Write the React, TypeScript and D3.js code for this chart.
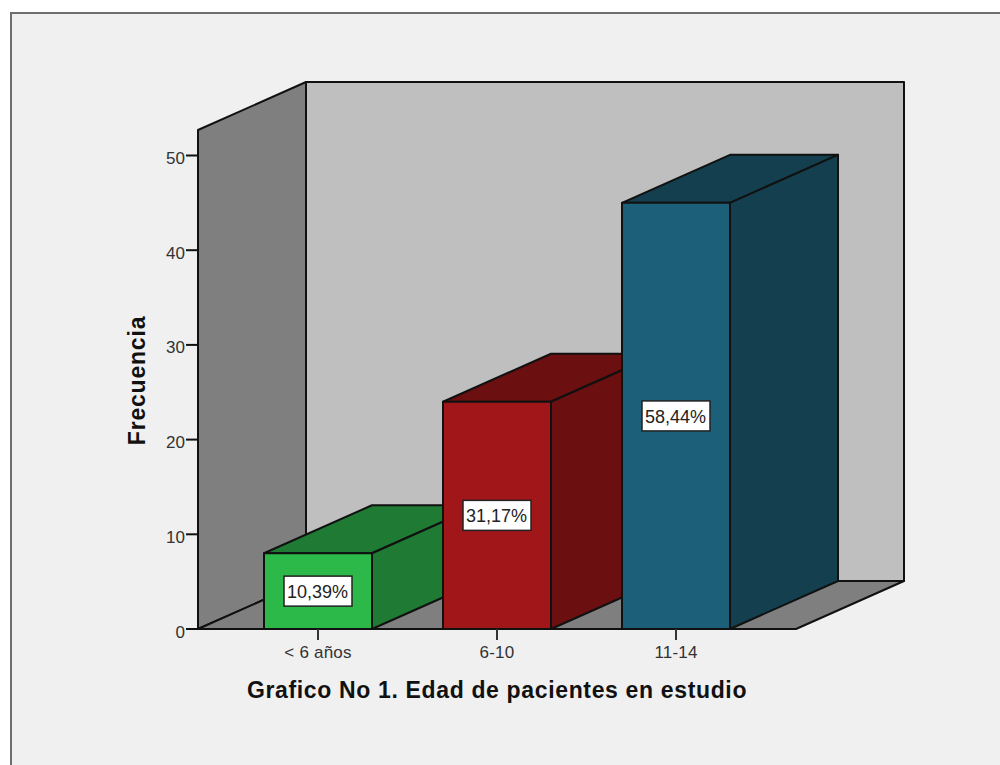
import React from "react";
import * as d3 from "d3";

const categories = ["< 6 años", "6-10", "11-14"];
const frequencies = [8, 24, 45];
const percentLabels = ["10,39%", "31,17%", "58,44%"];
const frontColors = ["#2db84a", "#a11618", "#1c5f78"];
const sideColors = ["#1f7a33", "#6b0f10", "#133f4f"];
const yTicks = [0, 10, 20, 30, 40, 50];
const yAxisTitle = "Frecuencia";
const chartTitle = "Grafico No 1. Edad de pacientes en estudio";

const FONT = "'Liberation Sans', Arial, sans-serif";
const y = d3.scaleLinear().domain([0, 50]).range([629, 155.5]);
const x = d3.scalePoint<string>().domain(categories).range([318, 676]);
const barW = 108;
const dx = 108;
const dy = -48;
const left = 198;
const right = 796;
const top = 130;
const base = 629;
const line = d3.line();
const poly = (pts: [number, number][]) => line(pts) + "Z";
const stroke = { stroke: "#111", strokeWidth: 2, strokeLinejoin: "round" as const };

export default function App() {
  return (
    <svg width={1000} height={765} style={{ position: "absolute", left: 0, top: 0, background: "#fff" }}>
      <rect x={11} y={13} width={1000} height={770} fill="#f0f0f0" stroke="#6e6e6e" strokeWidth={2} />
      <path d={poly([[left + dx, top + dy], [right + dx, top + dy], [right + dx, base + dy], [left + dx, base + dy]])} fill="#bfbfbf" {...stroke} />
      <path d={poly([[left, top], [left + dx, top + dy], [left + dx, base + dy], [left, base]])} fill="#7f7f7f" {...stroke} />
      <path d={poly([[left, base], [left + dx, base + dy], [right + dx, base + dy], [right, base]])} fill="#7f7f7f" {...stroke} />
      {yTicks.map((t) => (
        <g key={t}>
          <line x1={left - 12} x2={left} y1={y(t)} y2={y(t)} {...stroke} />
          <text x={left - 13} y={y(t) + 8.5} textAnchor="end" fontFamily={FONT} fontSize={17} fill="#333">{t}</text>
        </g>
      ))}
      {categories.map((c, i) => {
        const x0 = x(c)! - barW / 2;
        const x1 = x0 + barW;
        const yt = y(frequencies[i]);
        const cy = (yt + base) / 2;
        const cx = x(c)!;
        return (
          <g key={c}>
            <path d={poly([[x0, yt], [x0 + dx, yt + dy], [x1 + dx, yt + dy], [x1, yt]])} fill={sideColors[i]} {...stroke} />
            <path d={poly([[x1, yt], [x1 + dx, yt + dy], [x1 + dx, base + dy], [x1, base]])} fill={sideColors[i]} {...stroke} />
            <rect x={x0} y={yt} width={barW} height={base - yt} fill={frontColors[i]} {...stroke} />
            <rect x={cx - 34} y={cy - 15} width={68} height={30} fill="#fff" stroke="#222" strokeWidth={1.5} />
            <text x={cx - 0.5} y={cy + 7} textAnchor="middle" fontFamily={FONT} fontSize={18} fill="#222">{percentLabels[i]}</text>
          </g>
        );
      })}
      <line x1={left} x2={right} y1={base} y2={base} {...stroke} />
      {categories.map((c) => (
        <g key={c}>
          <line x1={x(c)!} x2={x(c)!} y1={base} y2={base + 11} stroke="#333" strokeWidth={2} />
          <text x={x(c)!} y={658} textAnchor="middle" fontFamily={FONT} fontSize={17} letterSpacing={0.2} fill="#333">{c}</text>
        </g>
      ))}
      <text transform="translate(145,380.5) rotate(-90)" textAnchor="middle" fontFamily={FONT} fontSize={23} letterSpacing={0.8} fontWeight="bold" fill="#111">{yAxisTitle}</text>
      <text x={497} y={698} textAnchor="middle" fontFamily={FONT} fontSize={23} letterSpacing={0.65} fontWeight="bold" fill="#111">{chartTitle}</text>
    </svg>
  );
}
